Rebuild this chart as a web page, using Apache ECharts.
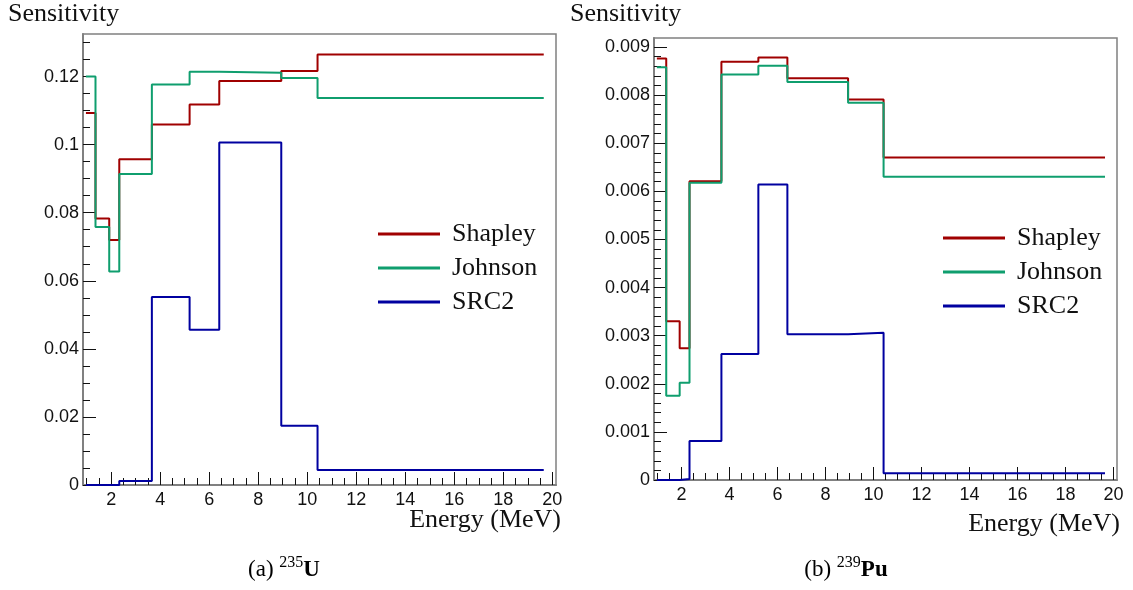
<!DOCTYPE html>
<html><head><meta charset="utf-8">
<script src="https://cdn.jsdelivr.net/npm/echarts@6/dist/echarts.min.js"></script>
<style>html,body{margin:0;padding:0;background:#fff}#c{width:1133px;height:590px}</style>
</head><body><div id="c"></div>
<script>
// ---- data ----
const binEdges = [0.97, 1.36, 1.92, 2.33, 3.66, 5.20, 6.41, 8.94, 10.42, 19.65];

const u235Shapley = [0.1093, 0.0783, 0.0720, 0.0957, 0.1059, 0.1118, 0.1187, 0.1216, 0.1265];
const u235Johnson = [0.1200, 0.0758, 0.0627, 0.0914, 0.1177, 0.1214, 0.1211, 0.1196, 0.1137];
const u235Src2    = [0.0000, 0.0000, 0.0000, 0.0012, 0.0552, 0.0456, 0.1006, 0.0174, 0.0044];

const pu239Shapley = [0.00876, 0.00330, 0.00274, 0.00621, 0.00869, 0.00878, 0.00835, 0.00791, 0.00670];
const pu239Johnson = [0.00858, 0.00175, 0.00202, 0.00618, 0.00843, 0.00861, 0.00827, 0.00784, 0.00630];
const pu239Src2    = [0.00000, 0.00000, 0.00002, 0.00081, 0.00262, 0.00614, 0.00303, 0.00306, 0.00014];

const seriesNames = ['Shapley', 'Johnson', 'SRC2'];
const xTickLabels = [2, 4, 6, 8, 10, 12, 14, 16, 18, 20];
const yTickLabelsU = [0, 0.02, 0.04, 0.06, 0.08, 0.1, 0.12];
const yTickLabelsPu = [0, 0.001, 0.002, 0.003, 0.004, 0.005, 0.006, 0.007, 0.008, 0.009];

// ---- helpers ----
const colors = ['#a00000', '#0f9e6e', '#0000a0'];
const xMinor = []; for (let k = 2; k <= 40; k++) xMinor.push(k / 2);
const yMinorU = []; for (let k = 0; k <= 26; k++) yMinorU.push(+(k * 0.005).toFixed(4));
const yMinorPu = []; for (let k = 0; k <= 45; k++) yMinorPu.push(+(k * 0.0002).toFixed(5));

function histData(vals) {
  return binEdges.map((e, i) => [e, vals[Math.min(i, vals.length - 1)]]);
}
const axisCol = '#808080';
const tickCol = '#111';
const labelFont = {fontFamily: 'Liberation Sans, Arial, sans-serif', fontSize: 18, color: '#111'};

function xMajor(g) {
  return {type: 'value', gridIndex: g, min: 0.85, max: 20.15, position: 'bottom',
    axisLine: {show: true, onZero: false, lineStyle: {color: axisCol, width: 2}},
    axisTick: {show: true, inside: true, length: 13, customValues: xTickLabels, lineStyle: {color: tickCol, width: 1}},
    axisLabel: Object.assign({show: true, customValues: xTickLabels, margin: 6}, labelFont),
    splitLine: {show: false}};
}
function xMin(g) {
  return {type: 'value', gridIndex: g, min: 0.85, max: 20.15, position: 'bottom', offset: 0,
    axisLine: {show: false},
    axisTick: {show: true, inside: true, length: 7, customValues: xMinor, lineStyle: {color: tickCol, width: 1}},
    axisLabel: {show: false}, splitLine: {show: false}};
}
function yMajor(g, max, ticks) {
  return {type: 'value', gridIndex: g, min: 0, max: max, position: 'left',
    axisLine: {show: true, onZero: false, lineStyle: {color: axisCol, width: 2}},
    axisTick: {show: true, inside: true, length: 13, customValues: ticks, lineStyle: {color: tickCol, width: 1}},
    axisLabel: Object.assign({show: true, customValues: ticks, margin: 4}, labelFont),
    splitLine: {show: false}};
}
function yMin(g, max, ticks) {
  return {type: 'value', gridIndex: g, min: 0, max: max, position: 'left', offset: 0,
    axisLine: {show: false},
    axisTick: {show: true, inside: true, length: 7, customValues: ticks, lineStyle: {color: tickCol, width: 1}},
    axisLabel: {show: false}, splitLine: {show: false}};
}
function mkSeries(name, vals, xi, yi, color) {
  return {name: name, type: 'line', step: 'end', xAxisIndex: xi, yAxisIndex: yi,
    data: histData(vals), symbol: 'none', showSymbol: false,
    lineStyle: {color: color, width: 2}, itemStyle: {color: color}, clip: true, z: 3};
}
function mkLegend(left, top) {
  return {orient: 'vertical', left: left, top: top, padding: 0, itemGap: 8,
    icon: 'rect', itemWidth: 62, itemHeight: 3, selectedMode: false,
    data: seriesNames,
    textStyle: {fontFamily: 'Liberation Serif, serif', fontSize: 26, color: '#111', padding: [0, 0, 0, 7]}};
}
const serifTxt = {fontFamily: 'Liberation Serif, serif', fontSize: 26, fill: '#111'};
const capRich = {
  sup: {fontFamily: 'Liberation Serif, serif', fontSize: 16, verticalAlign: 'top', lineHeight: 30, color: '#000'},
  el: {fontFamily: 'Liberation Serif, serif', fontSize: 23, fontWeight: 'bold', lineHeight: 30, color: '#000'}
};

const chart = echarts.init(document.getElementById('c'), null, {renderer: 'canvas'});
chart.setOption({
  animation: false,
  backgroundColor: '#fff',
  grid: [
    {left: 83, top: 34, width: 473, height: 451, show: true, borderColor: axisCol, borderWidth: 1.5, containLabel: false},
    {left: 654, top: 38, width: 463, height: 442, show: true, borderColor: axisCol, borderWidth: 1.5, containLabel: false}
  ],
  xAxis: [xMajor(0), xMin(0), xMajor(1), xMin(1)],
  yAxis: [yMajor(0, 0.1325, yTickLabelsU), yMin(0, 0.1325, yMinorU),
          yMajor(1, 0.009186, yTickLabelsPu), yMin(1, 0.009186, yMinorPu)],
  legend: [mkLegend(378, 221), mkLegend(943, 225)],
  series: [
    mkSeries(seriesNames[0], u235Shapley, 0, 0, colors[0]),
    mkSeries(seriesNames[1], u235Johnson, 0, 0, colors[1]),
    mkSeries(seriesNames[2], u235Src2, 0, 0, colors[2]),
    mkSeries(seriesNames[0], pu239Shapley, 2, 2, colors[0]),
    mkSeries(seriesNames[1], pu239Johnson, 2, 2, colors[1]),
    mkSeries(seriesNames[2], pu239Src2, 2, 2, colors[2])
  ],
  title: [
    {text: '(a) {sup|235}{el|U}', left: 284, top: 555, textAlign: 'center', padding: 0,
     textStyle: {fontFamily: 'Liberation Serif, serif', fontSize: 23, fontWeight: 'normal', color: '#000', lineHeight: 30, rich: capRich}},
    {text: '(b) {sup|239}{el|Pu}', left: 846, top: 555, textAlign: 'center', padding: 0,
     textStyle: {fontFamily: 'Liberation Serif, serif', fontSize: 23, fontWeight: 'normal', color: '#000', lineHeight: 30, rich: capRich}}
  ],
  graphic: [
    {type: 'text', left: 8, top: 1, style: Object.assign({text: 'Sensitivity'}, serifTxt)},
    {type: 'text', left: 570, top: 1, style: Object.assign({text: 'Sensitivity'}, serifTxt)},
    {type: 'text', right: 1133 - 561, top: 507, style: Object.assign({text: 'Energy (MeV)'}, serifTxt)},
    {type: 'text', right: 1133 - 1120, top: 511, style: Object.assign({text: 'Energy (MeV)'}, serifTxt)}
  ]
});
</script>
</body></html>
